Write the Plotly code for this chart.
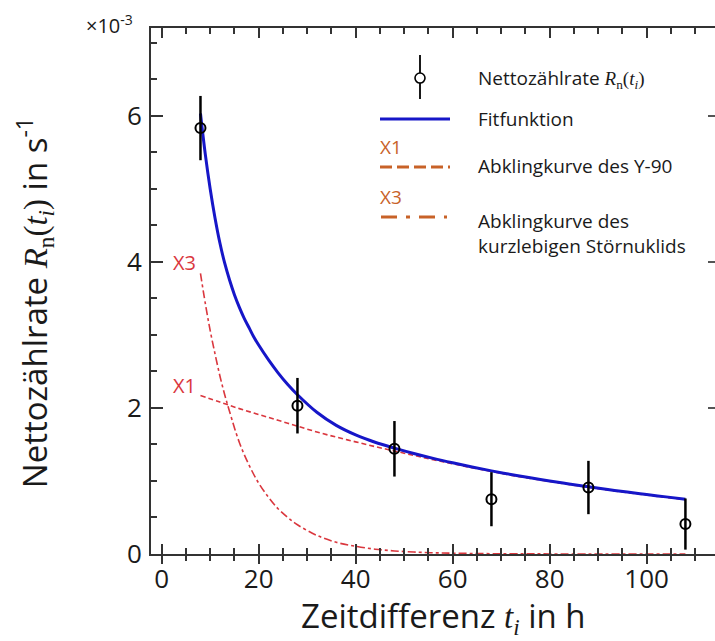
import plotly.graph_objects as go

# ---------------- data ----------------
t_meas = [8, 28, 48, 68, 88, 108]
r_meas = [5.83, 2.03, 1.44, 0.75, 0.91, 0.41]
r_err = [0.44, 0.38, 0.38, 0.37, 0.365, 0.35]

t_fit = [8, 9, 10, 11, 12, 13, 14, 15, 16, 17, 18, 19, 20, 22, 24, 26, 28, 32, 36, 40, 44, 48,
         52, 56, 60, 64, 68, 72, 76, 80, 84, 88, 92, 96, 100, 104, 108]
r_fit = [6.03, 5.47, 5.00, 4.60, 4.26, 3.98, 3.75, 3.55, 3.38, 3.23, 3.10, 2.97, 2.86, 2.66,
         2.48, 2.32, 2.18, 1.94, 1.76, 1.63, 1.53, 1.45, 1.376, 1.309, 1.248, 1.191, 1.138,
         1.089, 1.043, 1.000, 0.959, 0.920, 0.883, 0.848, 0.814, 0.782, 0.751]

t_x1 = [8, 12, 16, 20, 24, 28, 32, 36, 40, 44, 48, 52, 56, 60, 64, 68, 72, 76, 80,
        84, 88, 92, 96, 100, 104, 108]
r_x1 = [2.17, 2.08, 1.99, 1.91, 1.83, 1.75, 1.67, 1.60, 1.535, 1.47, 1.41, 1.35, 1.29,
        1.235, 1.18, 1.13, 1.08, 1.035, 0.993, 0.952, 0.913, 0.876, 0.841, 0.807, 0.775, 0.744]

t_x3 = [8, 9, 10, 11, 12, 13, 14, 16, 18, 20, 22, 24, 26, 28, 32, 36, 40, 44, 48,
        52, 56, 60, 68, 80, 108]
r_x3 = [3.84, 3.43, 3.06, 2.74, 2.44, 2.18, 1.95, 1.53, 1.22, 0.97, 0.78, 0.62, 0.50,
        0.40, 0.255, 0.16, 0.105, 0.066, 0.042, 0.027, 0.017, 0.011, 0.004, 0.001, 0.0]

x_ticks = [0, 20, 40, 60, 80, 100]
y_ticks = [0, 2, 4, 6]

FONT = "Open Sans"
SERIF = "Liberation Serif"
BLUE = "rgb(22,22,200)"
RED = "rgb(218,55,62)"
ORANGE = "rgb(200,98,40)"
AX = "#333333"
TXT = "#1a1a1a"

X_RANGE = [-2.2, 114.1]
Y_RANGE = [0, 7.2]

fig = go.Figure()

fig.add_trace(go.Scatter(x=t_x3, y=r_x3, mode="lines", line=dict(color=RED, width=1.6, dash="8px,3px,3px,3px"),
                         line_shape="spline", showlegend=False, hoverinfo="skip"))
fig.add_trace(go.Scatter(x=t_x1, y=r_x1, mode="lines", line=dict(color=RED, width=1.6, dash="5px,3px"),
                         line_shape="spline", showlegend=False, hoverinfo="skip"))
fig.add_trace(go.Scatter(x=t_fit, y=r_fit, mode="lines", line=dict(color=BLUE, width=3),
                         line_shape="spline", showlegend=False))
fig.add_trace(go.Scatter(x=t_meas, y=r_meas, mode="markers",
                         marker=dict(symbol="circle-open", size=10, color="black", line=dict(width=2, color="black")),
                         error_y=dict(type="data", array=r_err, visible=True, color="black", thickness=2.5, width=0),
                         showlegend=False))
# empty helper traces so the overlay axes (extra tick marks) are drawn
fig.add_trace(go.Scatter(x=[], y=[], xaxis="x2", yaxis="y", showlegend=False))
fig.add_trace(go.Scatter(x=[], y=[], xaxis="x", yaxis="y2", showlegend=False))

fig.update_layout(
    width=715, height=641,
    margin=dict(l=151, r=0, t=28, b=87),
    paper_bgcolor="white", plot_bgcolor="white",
    font=dict(family=FONT, color=TXT),
    xaxis=dict(range=X_RANGE, tickvals=x_ticks, ticks="inside", ticklen=10, tickwidth=2, tickcolor=AX,
               minor=dict(dtick=5, tick0=0, ticks="inside", ticklen=6, tickwidth=1.5, tickcolor=AX),
               showline=True, linecolor=AX, linewidth=2, mirror="ticks",
               showgrid=False, zeroline=False, tickfont=dict(size=26, family=FONT, color=TXT),
               ticklabelstandoff=1, automargin=False),
    xaxis2=dict(range=X_RANGE, overlaying="x", anchor="y", side="bottom", tickvals=x_ticks,
                ticks="outside", ticklen=9, tickwidth=2, tickcolor=AX,
                minor=dict(dtick=5, tick0=0, ticks="outside", ticklen=6, tickwidth=1.5, tickcolor=AX),
                showticklabels=False, showline=False, showgrid=False, zeroline=False, automargin=False),
    yaxis=dict(range=Y_RANGE, tickvals=y_ticks, ticks="inside", ticklen=12, tickwidth=2, tickcolor=AX,
               minor=dict(dtick=0.5, tick0=0, ticks="inside", ticklen=6, tickwidth=1.5, tickcolor=AX),
               showline=True, linecolor=AX, linewidth=2, mirror=False,
               showgrid=False, zeroline=False, tickfont=dict(size=26, family=FONT, color=TXT),
               ticklabelstandoff=2, automargin=False),
    yaxis2=dict(range=Y_RANGE, overlaying="y", anchor="x", side="right", tickvals=[2, 4, 6],
                ticks="inside", ticklen=7, tickwidth=1.5, tickcolor="#555",
                showticklabels=False, showline=False, showgrid=False, zeroline=False, automargin=False),
)

W, B, H = 564.0, 553.7, 525.7


def px(x):
    return (x - 151) / W


def py(y):
    return (B - y) / H


ann = []
# axis titles
ann.append(dict(text="Zeitdifferenz <span style='font-family:%s'><i>t</i><sub><i>i</i></sub></span> in h" % SERIF,
                x=px(443), y=py(616), xref="paper", yref="paper", showarrow=False,
                xanchor="center", yanchor="middle", font=dict(size=33, family=FONT, color=TXT)))
ann.append(dict(text="Nettozählrate <span style='font-family:%s'><i>R</i><sub>n</sub>(<i>t</i><sub><i>i</i></sub>)</span> in s<sup>-1</sup>" % SERIF,
                x=px(33), y=py(303), xref="paper", yref="paper", showarrow=False, textangle=-90,
                xanchor="center", yanchor="middle", font=dict(size=33, family=FONT, color=TXT)))
ann.append(dict(text="×10<sup>-3</sup>", x=px(84), y=py(25), xref="paper", yref="paper", showarrow=False,
                xanchor="left", yanchor="middle", font=dict(size=20, family=FONT, color=TXT)))
# curve labels
ann.append(dict(text="X3", x=px(171), y=py(262), xref="paper", yref="paper", showarrow=False,
                xanchor="left", yanchor="middle", font=dict(size=20, family=FONT, color=RED)))
ann.append(dict(text="X1", x=px(171), y=py(385), xref="paper", yref="paper", showarrow=False,
                xanchor="left", yanchor="middle", font=dict(size=20, family=FONT, color=RED)))
# legend texts
LX = px(476)
LF = dict(size=19, family=FONT, color=TXT)
ann.append(dict(text="Nettozählrate <span style='font-family:%s'><i>R</i><sub>n</sub>(<i>t</i><sub><i>i</i></sub>)</span>" % SERIF,
                x=LX, y=py(78), xref="paper", yref="paper", showarrow=False, xanchor="left", yanchor="middle",
                font=LF))
ann.append(dict(text="Fitfunktion", x=LX, y=py(119), xref="paper", yref="paper", showarrow=False,
                xanchor="left", yanchor="middle", font=LF))
ann.append(dict(text="Abklingkurve des Y-90", x=LX, y=py(166), xref="paper", yref="paper", showarrow=False,
                xanchor="left", yanchor="middle", font=LF))
ann.append(dict(text="Abklingkurve des<br>kurzlebigen Störnuklids", x=LX, y=py(233), xref="paper", yref="paper",
                showarrow=False, xanchor="left", yanchor="middle", align="left", font=LF))
ann.append(dict(text="X1", x=px(378), y=py(147), xref="paper", yref="paper", showarrow=False,
                xanchor="left", yanchor="middle", font=dict(size=19, family=FONT, color=ORANGE)))
ann.append(dict(text="X3", x=px(378), y=py(197), xref="paper", yref="paper", showarrow=False,
                xanchor="left", yanchor="middle", font=dict(size=19, family=FONT, color=ORANGE)))
fig.update_layout(annotations=ann)

shapes = []
# legend: error-bar symbol
shapes.append(dict(type="line", xref="paper", yref="paper", x0=px(420), x1=px(420), y0=py(55), y1=py(99),
                   line=dict(color="black", width=1.8)))
shapes.append(dict(type="circle", xref="paper", yref="paper", xsizemode="pixel", ysizemode="pixel",
                   xanchor=px(420), yanchor=py(78), x0=-5, x1=5, y0=-5, y1=5,
                   fillcolor="white", line=dict(color="black", width=1.6)))
shapes.append(dict(type="line", xref="paper", yref="paper", x0=px(380), x1=px(450), y0=py(119), y1=py(119),
                   line=dict(color=BLUE, width=3)))
shapes.append(dict(type="line", xref="paper", yref="paper", x0=px(380), x1=px(450), y0=py(167), y1=py(167),
                   line=dict(color=ORANGE, width=3, dash="12px,5px")))
shapes.append(dict(type="line", xref="paper", yref="paper", x0=px(381), x1=px(447), y0=py(217), y1=py(217),
                   line=dict(color=ORANGE, width=3, dash="16px,9px,4px,9px")))
fig.update_layout(shapes=shapes)

fig.write_html("out.html", config={"displayModeBar": False},
               post_script="document.body.style.margin='0px';document.body.style.overflow='hidden';")
